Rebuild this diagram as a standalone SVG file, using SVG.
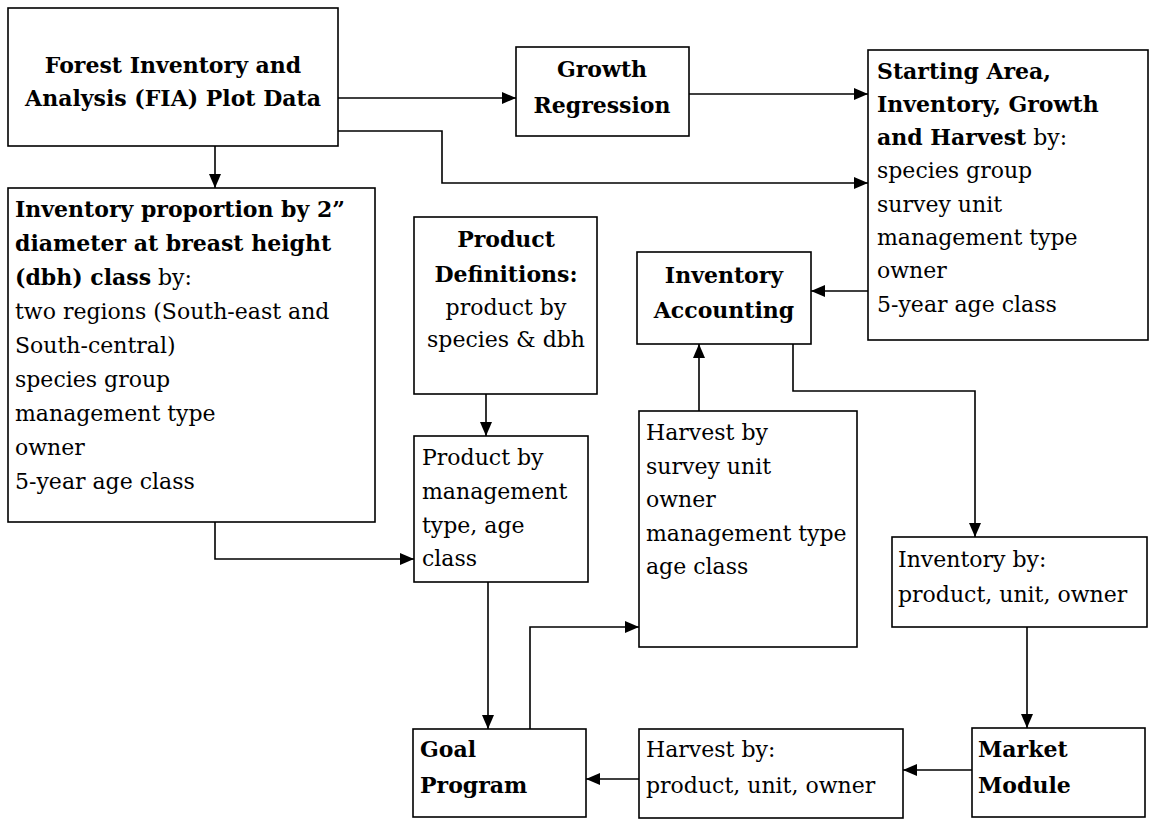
<svg xmlns="http://www.w3.org/2000/svg" width="1155" height="820" viewBox="0 0 1155 820">
<style>
.box{fill:#fff;stroke:#000;stroke-width:1.6}
.t{font-family:"DejaVu Serif","Liberation Serif",serif;font-size:22px;fill:#000}
.b{font-weight:bold}
.c{text-anchor:middle}
.ln{fill:none;stroke:#000;stroke-width:1.6}
</style>
<defs>
<marker id="arr" markerWidth="14" markerHeight="12" refX="14" refY="6" orient="auto" markerUnits="userSpaceOnUse">
<path d="M0,0 L14,6 L0,12 z" fill="#000"/>
</marker>
</defs>
<rect width="1155" height="820" fill="#fff"/>

<g id="connectors">
<path class="ln" d="M338,98 H516" marker-end="url(#arr)"/>
<path class="ln" d="M338,131 H442 V183 H868" marker-end="url(#arr)"/>
<path class="ln" d="M689,94 H868" marker-end="url(#arr)"/>
<path class="ln" d="M215,146 V188" marker-end="url(#arr)"/>
<path class="ln" d="M868,291 H811" marker-end="url(#arr)"/>
<path class="ln" d="M215,522 V559 H414" marker-end="url(#arr)"/>
<path class="ln" d="M486,394 V436" marker-end="url(#arr)"/>
<path class="ln" d="M488,582 V729" marker-end="url(#arr)"/>
<path class="ln" d="M530,729 V627 H639" marker-end="url(#arr)"/>
<path class="ln" d="M699,411 V344" marker-end="url(#arr)"/>
<path class="ln" d="M793,344 V391 H975 V537" marker-end="url(#arr)"/>
<path class="ln" d="M1027,627 V728" marker-end="url(#arr)"/>
<path class="ln" d="M972,770 H903" marker-end="url(#arr)"/>
<path class="ln" d="M639,779 H586" marker-end="url(#arr)"/>
</g>

<g id="fia">
<rect class="box" x="8" y="8" width="330" height="138"/>
<text class="t b c" x="173" y="73">Forest Inventory and</text>
<text class="t b c" x="173" y="106">Analysis (FIA) Plot Data</text>
</g>

<g id="growth">
<rect class="box" x="516" y="47" width="173" height="89"/>
<text class="t b c" x="602" y="77">Growth</text>
<text class="t b c" x="602" y="113">Regression</text>
</g>

<g id="starting">
<rect class="box" x="868" y="50" width="280" height="290"/>
<text class="t b" x="877" y="79">Starting Area,</text>
<text class="t b" x="877" y="112">Inventory, Growth</text>
<text class="t" x="877" y="145"><tspan class="b">and Harvest</tspan> by:</text>
<text class="t" x="877" y="178">species group</text>
<text class="t" x="877" y="212">survey unit</text>
<text class="t" x="877" y="245">management type</text>
<text class="t" x="877" y="278">owner</text>
<text class="t" x="877" y="312">5-year age class</text>
</g>

<g id="proportion">
<rect class="box" x="8" y="188" width="367" height="334"/>
<text class="t b" x="15" y="217">Inventory proportion by 2”</text>
<text class="t b" x="15" y="251">diameter at breast height</text>
<text class="t" x="15" y="285"><tspan class="b">(dbh) class</tspan> by:</text>
<text class="t" x="15" y="319">two regions (South-east and</text>
<text class="t" x="15" y="353">South-central)</text>
<text class="t" x="15" y="387">species group</text>
<text class="t" x="15" y="421">management type</text>
<text class="t" x="15" y="455">owner</text>
<text class="t" x="15" y="489">5-year age class</text>
</g>

<g id="productdef">
<rect class="box" x="414" y="217" width="183" height="177"/>
<text class="t b c" x="506" y="247">Product</text>
<text class="t b c" x="506" y="282">Definitions:</text>
<text class="t c" x="506" y="315">product by</text>
<text class="t c" x="506" y="347">species &amp; dbh</text>
</g>

<g id="productby">
<rect class="box" x="414" y="436" width="174" height="146"/>
<text class="t" x="422" y="465">Product by</text>
<text class="t" x="422" y="499">management</text>
<text class="t" x="422" y="533">type, age</text>
<text class="t" x="422" y="566">class</text>
</g>

<g id="accounting">
<rect class="box" x="637" y="252" width="174" height="92"/>
<text class="t b c" x="724" y="283">Inventory</text>
<text class="t b c" x="724" y="318">Accounting</text>
</g>

<g id="harvestsurvey">
<rect class="box" x="639" y="411" width="218" height="236"/>
<text class="t" x="646" y="440">Harvest by</text>
<text class="t" x="646" y="474">survey unit</text>
<text class="t" x="646" y="507">owner</text>
<text class="t" x="646" y="541">management type</text>
<text class="t" x="646" y="574">age class</text>
</g>

<g id="inventoryby">
<rect class="box" x="892" y="537" width="255" height="90"/>
<text class="t" x="898" y="567">Inventory by:</text>
<text class="t" x="898" y="602">product, unit, owner</text>
</g>

<g id="goal">
<rect class="box" x="413" y="729" width="173" height="88"/>
<text class="t b" x="420" y="757">Goal</text>
<text class="t b" x="420" y="793">Program</text>
</g>

<g id="harvestproduct">
<rect class="box" x="639" y="729" width="264" height="89"/>
<text class="t" x="646" y="757">Harvest by:</text>
<text class="t" x="646" y="793">product, unit, owner</text>
</g>

<g id="market">
<rect class="box" x="972" y="728" width="173" height="89"/>
<text class="t b" x="978" y="757">Market</text>
<text class="t b" x="978" y="793">Module</text>
</g>
</svg>
